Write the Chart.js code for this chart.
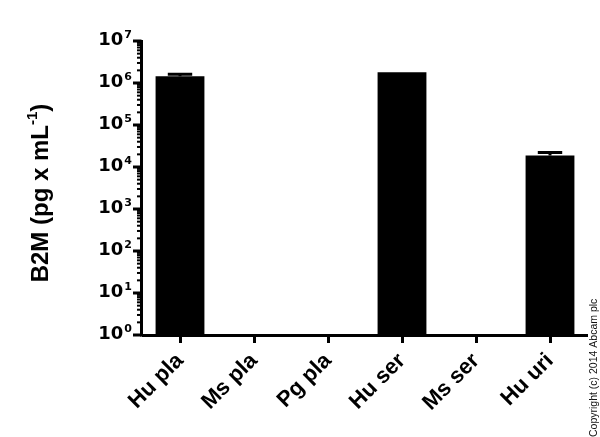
<!DOCTYPE html>
<html>
<head>
<meta charset="utf-8">
<script src="https://cdn.jsdelivr.net/npm/chart.js@4"></script>
<style>
html,body{margin:0;padding:0;background:#fff;}
#wrap{width:600px;height:437px;position:relative;}
</style>
</head>
<body>
<div id="wrap"><canvas id="c"></canvas></div>
<script>
const categories = ['Hu pla', 'Ms pla', 'Pg pla', 'Hu ser', 'Ms ser', 'Hu uri'];
const values = [1.45e6, null, null, 1.8e6, null, 1.87e4];
const errorTop = [1.62e6, null, null, null, null, 2.2e4];
const yExponents = [0, 1, 2, 3, 4, 5, 6, 7];
const yTitle = 'B2M (pg x mL';
const yTitleSup = '-1';
const copyright = 'Copyright (c) 2014 Abcam plc';

const FONT = '"Liberation Sans", Arial, sans-serif';
const TICKFONT = '"DejaVu Sans", sans-serif';

const customDraw = {
  id: 'customDraw',
  afterDatasetsDraw(chart) {
    const ctx = chart.ctx;
    const y = chart.scales.y;
    const area = chart.chartArea;
    ctx.save();
    // error bars
    const meta = chart.getDatasetMeta(0);
    ctx.strokeStyle = '#000';
    ctx.lineWidth = 3;
    errorTop.forEach((e, i) => {
      if (e == null || values[i] == null) return;
      const bar = meta.data[i];
      const cx = bar.x;
      const yTop = y.getPixelForValue(e);
      const yVal = y.getPixelForValue(values[i]);
      const half = bar.width / 4;
      ctx.beginPath();
      ctx.moveTo(cx, yVal);
      ctx.lineTo(cx, yTop);
      ctx.moveTo(cx - half, yTop);
      ctx.lineTo(cx + half, yTop);
      ctx.stroke();
    });
    // y axis line
    const ax = area.left;
    ctx.lineWidth = 3;
    ctx.beginPath();
    ctx.moveTo(ax - 1.5, area.top - 1);
    ctx.lineTo(ax - 1.5, area.bottom + 1.5);
    ctx.stroke();
    // ticks and labels
    yExponents.forEach((p) => {
      const py = y.getPixelForValue(Math.pow(10, p));
      ctx.lineWidth = 3;
      ctx.beginPath();
      ctx.moveTo(ax - 10, py);
      ctx.lineTo(ax - 1.5, py);
      ctx.stroke();
      if (p < yExponents[yExponents.length - 1]) {
        for (let m = 2; m <= 9; m++) {
          const my = y.getPixelForValue(m * Math.pow(10, p));
          ctx.lineWidth = 2;
          ctx.beginPath();
          ctx.moveTo(ax - 6, my);
          ctx.lineTo(ax - 1.5, my);
          ctx.stroke();
        }
      }
      ctx.fillStyle = '#000';
      ctx.textBaseline = 'alphabetic';
      ctx.font = 'bold 11px ' + TICKFONT;
      ctx.textAlign = 'right';
      const expRight = ax - 11;
      const ew = ctx.measureText(String(p)).width;
      ctx.fillText(String(p), expRight, py - 3);
      ctx.font = 'bold 18px ' + TICKFONT;
      ctx.fillText('10', expRight - ew - 1, py + 4);
    });
    // y title
    ctx.save();
    ctx.translate(48, 193);
    ctx.rotate(-Math.PI / 2);
    ctx.fillStyle = '#000';
    ctx.font = 'bold 24px ' + FONT;
    const w1 = ctx.measureText(yTitle).width;
    ctx.font = 'bold 15px ' + FONT;
    const w2 = ctx.measureText(yTitleSup).width;
    ctx.font = 'bold 24px ' + FONT;
    const w3 = ctx.measureText(')').width;
    const total = w1 + w2 + w3;
    const sx = -total / 2;
    ctx.textAlign = 'left';
    ctx.textBaseline = 'alphabetic';
    ctx.fillText(yTitle, sx, 0);
    ctx.font = 'bold 15px ' + FONT;
    ctx.fillText(yTitleSup, sx + w1, -11);
    ctx.font = 'bold 24px ' + FONT;
    ctx.fillText(')', sx + w1 + w2, 0);
    ctx.restore();
    // copyright
    ctx.save();
    ctx.translate(597, 437);
    ctx.rotate(-Math.PI / 2);
    ctx.font = '10.5px ' + FONT;
    ctx.fillStyle = '#111';
    ctx.textAlign = 'left';
    ctx.textBaseline = 'alphabetic';
    ctx.fillText(copyright, 0, 0);
    ctx.restore();
    ctx.restore();
  }
};

new Chart(document.getElementById('c'), {
  type: 'bar',
  data: {
    labels: categories,
    datasets: [{
      data: values,
      backgroundColor: '#000',
      borderWidth: 0,
      barPercentage: 0.66,
      categoryPercentage: 1.0
    }]
  },
  options: {
    responsive: true,
    maintainAspectRatio: false,
    animation: false,
    devicePixelRatio: 1,
    layout: { padding: { left: 143, top: 41, right: 13, bottom: 0 } },
    plugins: { legend: { display: false }, tooltip: { enabled: false } },
    scales: {
      y: {
        type: 'logarithmic',
        min: 1,
        max: 1e7,
        display: false
      },
      x: {
        afterFit: (scale) => { scale.height = 102; },
        border: { display: true, color: '#000', width: 3 },
        grid: {
          display: true,
          drawOnChartArea: false,
          drawTicks: true,
          offset: false,
          tickLength: 8,
          tickWidth: 3,
          tickColor: '#000'
        },
        ticks: {
          color: '#000',
          font: { family: FONT, size: 22, weight: 'bold' },
          minRotation: 45,
          maxRotation: 45,
          padding: 5,
          autoSkip: false
        }
      }
    }
  },
  plugins: [customDraw]
});
</script>
</body>
</html>
